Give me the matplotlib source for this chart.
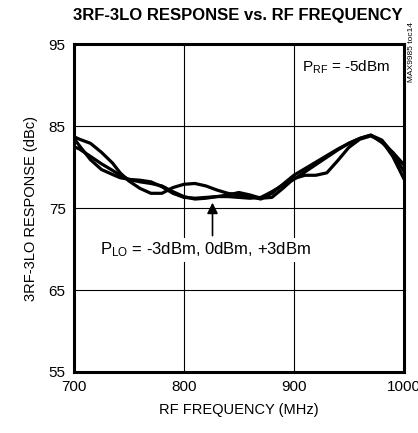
import matplotlib
matplotlib.use("Agg")
import matplotlib.pyplot as plt

# RF frequency (MHz) and 3RF-3LO response (dBc) for the three LO drive levels
freq = [700, 705, 715, 725, 735, 742, 750, 760, 770, 780, 790, 800, 810, 820, 830, 840,
        850, 860, 870, 880, 890, 900, 910, 920, 930, 940, 950, 960, 970, 980, 990, 1000]
resp_m3 = [83.7, 83.4, 82.9, 81.8, 80.5, 79.3, 78.3, 77.4, 76.8, 76.8, 77.5, 77.9, 78.0, 77.7, 77.2, 76.8,
           76.6, 76.4, 76.1, 76.8, 77.9, 79.0, 79.8, 80.6, 81.4, 82.2, 82.9, 83.5, 83.9, 83.3, 81.7, 79.5]
resp_0 = [82.5, 82.2, 81.3, 80.4, 79.6, 79.0, 78.5, 78.2, 78.0, 77.7, 77.0, 76.4, 76.1, 76.2, 76.4, 76.6,
          76.9, 76.6, 76.2, 76.3, 77.4, 78.6, 79.0, 79.0, 79.3, 80.8, 82.4, 83.4, 83.8, 83.2, 81.3, 78.6]
resp_p3 = [83.5, 82.6, 80.9, 79.7, 79.1, 78.7, 78.5, 78.4, 78.2, 77.6, 76.8, 76.3, 76.2, 76.3, 76.4, 76.4,
           76.3, 76.2, 76.3, 77.0, 77.8, 78.5, 79.4, 80.3, 81.2, 82.1, 82.9, 83.5, 83.9, 83.0, 81.8, 80.3]

xticks = [700, 800, 900, 1000]
yticks = [55, 65, 75, 85, 95]

plt.rcParams['font.family'] = ['Liberation Sans Narrow', 'Liberation Sans', 'DejaVu Sans']

fig = plt.figure(figsize=(4.18, 4.33), dpi=100)
ax = fig.add_axes([0.177, 0.141, 0.789, 0.757])

for r in (resp_m3, resp_0, resp_p3):
    ax.plot(freq, r, color='black', lw=2.3, solid_joinstyle='round', zorder=3)

ax.set_xlim(700, 1000)
ax.set_ylim(55, 95)
ax.set_xticks(xticks)
ax.set_yticks(yticks)
ax.tick_params(length=0, labelsize=11, pad=6)
ax.grid(True, color='black', lw=0.8)
for s in ax.spines.values():
    s.set_linewidth(2.2)

ax.set_xlabel('RF FREQUENCY (MHz)', fontsize=10.5, labelpad=6)
ax.set_ylabel('3RF-3LO RESPONSE (dBc)', fontsize=10.5, labelpad=8)
fig.text(0.57, 0.965, '3RF-3LO RESPONSE vs. RF FREQUENCY', ha='center', va='center',
         fontsize=12, fontweight='bold')

ax.text(0.96, 0.955, r'$\mathregular{P_{RF}}$ = -5dBm', transform=ax.transAxes,
        ha='right', va='top', fontsize=11)
fig.text(0.985, 0.95, 'MAX9985 toc14', rotation=90, ha='center', va='top', fontsize=6)

ax.annotate('', xy=(826, 76.0), xytext=(826, 71.3),
            arrowprops=dict(arrowstyle='-|>', color='black', lw=1.2, mutation_scale=16))
ax.text(820, 69.9, r'$\mathregular{P_{LO}}$ = -3dBm, 0dBm, +3dBm', ha='center', va='center',
        fontsize=12, bbox=dict(facecolor='white', edgecolor='none', pad=2), zorder=4)

fig.savefig('out.png', dpi=100)
